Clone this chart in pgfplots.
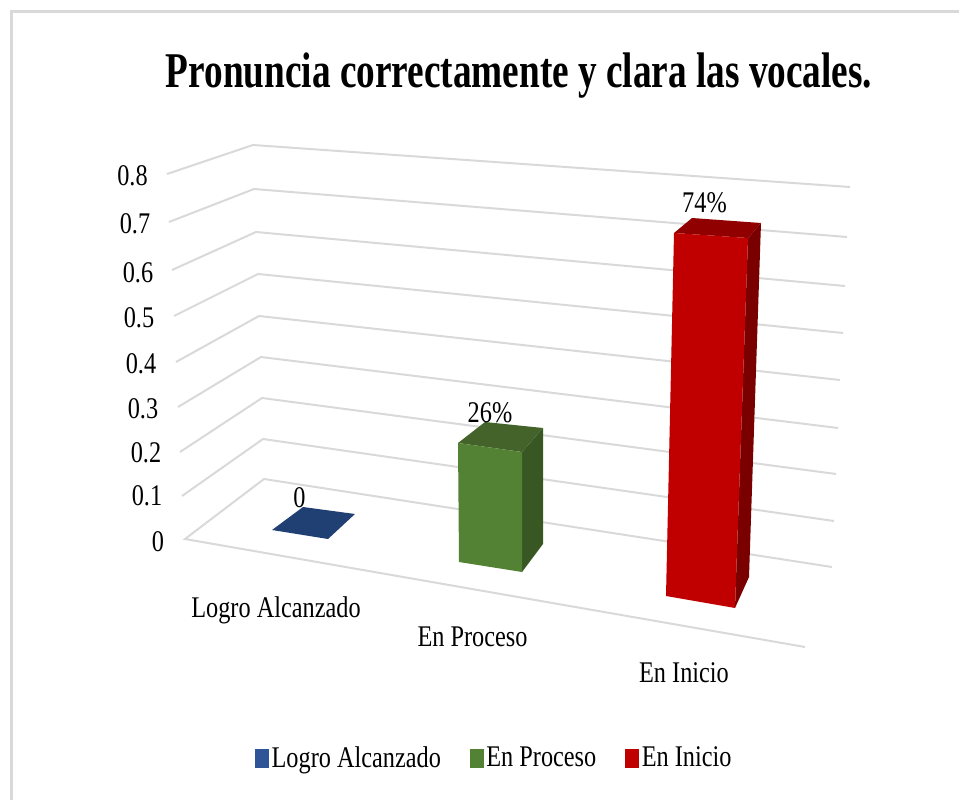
\documentclass[border=0pt]{standalone}
\usepackage{fontspec}
\setmainfont{Liberation Serif}
\usepackage{pgfplots}
\pgfplotsset{compat=1.18}
\usepackage{graphicx}

\definecolor{gridc}{HTML}{D9D9D9}
\definecolor{bluebar}{HTML}{203F73}
\definecolor{bluekey}{HTML}{2F5597}
\definecolor{greenfront}{HTML}{548235}
\definecolor{greentop}{HTML}{43632B}
\definecolor{greenside}{HTML}{385723}
\definecolor{redfront}{HTML}{C00000}
\definecolor{redtop}{HTML}{900000}
\definecolor{redside}{HTML}{7A0000}

% text in the picture is squeezed sideways
\newcommand{\sq}[1]{\scalebox{0.81}[1]{\fontsize{30}{30}\selectfont #1}}

\begin{document}
\begin{tikzpicture}
\useasboundingbox (0,0) rectangle (959pt,800pt);
\begin{axis}[
    at={(0,0)},anchor=south west,
    scale only axis,
    width=959pt,height=800pt,
    xmin=0,xmax=959,
    ymin=0,ymax=800,
    y dir=reverse,
    hide axis,
    legend columns=3,
    legend style={
        at={(axis cs:255,771)},anchor=south west,
        draw=none,fill=none,inner sep=0pt,
        /tikz/every odd column/.append style={column sep=1pt},
        /tikz/every even column/.append style={column sep=27pt},
    },
    legend cell align=left,
    every axis plot/.append style={forget plot},
]
% frame of the chart area
\addplot[gridc,line width=3pt] coordinates {(11.5,800) (11.5,11.5) (959,11.5)};

% gridlines, 0 to 0.8, front left - back corner - right end
\addplot[gridc,line width=2pt] coordinates {(805,647) (185,539) (264,479) (832,567)};
\addplot[gridc,line width=2pt] coordinates {(182,496) (263,439) (834,521)};
\addplot[gridc,line width=2pt] coordinates {(180,452) (262,398) (836,474)};
\addplot[gridc,line width=2pt] coordinates {(178,407) (261,357) (838,428)};
\addplot[gridc,line width=2pt] coordinates {(176,362) (259,316) (840,380)};
\addplot[gridc,line width=2pt] coordinates {(174,316) (258,274) (843,333)};
\addplot[gridc,line width=2pt] coordinates {(172,270) (256,232) (845,286)};
\addplot[gridc,line width=2pt] coordinates {(169,222) (254,189) (847,237)};
\addplot[gridc,line width=2pt] coordinates {(167,174) (253,145) (850,187)};

% Logro Alcanzado: 0, only the flat top
\addplot[fill=bluebar,draw=none] coordinates {(272,530) (303,507) (355,514) (328,539)} -- cycle;

% En Proceso: 26%
\addplot[fill=greenside,draw=none] coordinates {(522,452) (543,428) (543,544) (522,572)} -- cycle;
\addplot[fill=greentop,draw=none] coordinates {(458,443) (485,422) (543,428) (522,452)} -- cycle;
\addplot[fill=greenfront,draw=none] coordinates {(458,443) (522,452) (522,572) (459,562)} -- cycle;

% En Inicio: 74%
\addplot[fill=redside,draw=none] coordinates {(748,238) (761,223) (749,577) (735,608)} -- cycle;
\addplot[fill=redtop,draw=none] coordinates {(674,233) (692,218) (761,223) (748,238)} -- cycle;
\addplot[fill=redfront,draw=none] coordinates {(674,233) (748,238) (735,608) (666,596)} -- cycle;

% title
\node[anchor=base] at (axis cs:519,88)
    {\scalebox{0.745}[1]{\fontsize{50}{50}\selectfont\bfseries Pronuncia correctamente y clara las vocales.}};

% value axis labels
\node[anchor=base] at (axis cs:132.5,185) {\sq{0.8}};
\node[anchor=base] at (axis cs:135,233) {\sq{0.7}};
\node[anchor=base] at (axis cs:138,282) {\sq{0.6}};
\node[anchor=base] at (axis cs:139,327) {\sq{0.5}};
\node[anchor=base] at (axis cs:141,373) {\sq{0.4}};
\node[anchor=base] at (axis cs:143,418) {\sq{0.3}};
\node[anchor=base] at (axis cs:146,462) {\sq{0.2}};
\node[anchor=base] at (axis cs:147,505) {\sq{0.1}};
\node[anchor=base] at (axis cs:158,551) {\sq{0}};

% category labels
\node[anchor=base] at (axis cs:276,617) {\sq{Logro Alcanzado}};
\node[anchor=base] at (axis cs:472.5,646) {\sq{En Proceso}};
\node[anchor=base] at (axis cs:684,682) {\sq{En Inicio}};

% data labels
\node[anchor=base] at (axis cs:299.5,507) {\sq{0}};
\node[anchor=base] at (axis cs:490,422) {\sq{26\%}};
\node[anchor=base] at (axis cs:704.5,212) {\sq{74\%}};

% legend
\addlegendimage{legend image code/.code={\fill[bluekey] (0pt,-10pt) rectangle (13pt,8pt);}}
\addlegendentry{\sq{Logro Alcanzado}}
\addlegendimage{legend image code/.code={\fill[greenfront] (0pt,-10pt) rectangle (13pt,8pt);}}
\addlegendentry{\sq{En Proceso}}
\addlegendimage{legend image code/.code={\fill[redfront] (0pt,-10pt) rectangle (13pt,8pt);}}
\addlegendentry{\sq{En Inicio}}
\end{axis}
\end{tikzpicture}
\end{document}
